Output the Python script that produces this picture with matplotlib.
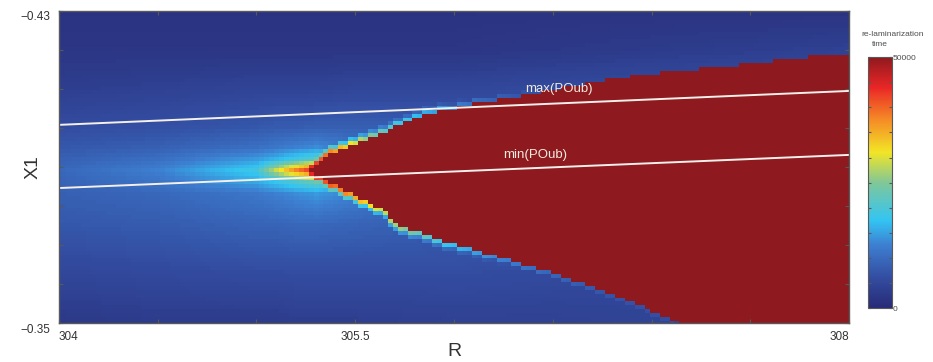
import numpy as np
import matplotlib.pyplot as plt
from matplotlib.colors import LinearSegmentedColormap
import matplotlib.transforms as mtransforms

plt.rcParams['font.family'] = ['Liberation Sans', 'DejaVu Sans']

# grid of the simulation (cell centres)
R_cells = np.arange(161) * 0.025 + 304.0
X1_cells = np.arange(81) * 0.001 - 0.43

# edges of the red (not re-laminarised) region
up_R = [305.27, 305.32, 305.47, 305.64, 305.81, 305.98, 306.12, 306.32, 306.79, 307.09, 307.43, 307.64, 307.84, 308.1]
up_X1 = [-0.3892, -0.3918, -0.3951, -0.3987, -0.4028, -0.4046, -0.4064, -0.4079, -0.4123, -0.4144, -0.4159, -0.4172, -0.4182, -0.4182]
low_R = [305.27, 305.32, 305.47, 305.61, 305.73, 305.98, 306.23, 306.49, 306.79, 306.96, 307.16, 308.1]
low_X1 = [-0.3887, -0.3874, -0.3833, -0.3797, -0.3746, -0.3705, -0.3667, -0.3628, -0.3577, -0.3538, -0.3495, -0.3400]

# coloured cells bordering the red region (fraction of 50000)
fr_up_R = [305.27, 305.4, 305.55, 305.7, 305.9, 306.1, 306.3, 306.6]
fr_up_val = [0.88, 0.72, 0.52, 0.38, 0.30, 0.20, 0.15, 0.10]
fr_low_R = [305.27, 305.45, 305.6, 305.75, 305.95, 306.2, 306.5, 306.8, 307.1]
fr_low_val = [0.88, 0.75, 0.60, 0.50, 0.36, 0.26, 0.18, 0.14, 0.12]
fr_decay = [1.0, 0.55, 0.3]

# background level (fraction of 50000) on a coarse grid
bg_R = [304, 304.5, 305, 305.1, 305.2, 305.3, 305.5, 306, 306.5, 307, 307.5, 308]
bg_X1 = [-0.43, -0.42, -0.41, -0.40, -0.395, -0.392, -0.389, -0.386, -0.383, -0.375, -0.365, -0.35]
bg_levels = [
    [.03, .03, .03, .03, .03, .03, .03, .03, .03, .03, .03, .03],
    [.04, .04, .04, .04, .04, .04, .04, .04, .05, .06, .07, .08],
    [.07, .08, .09, .09, .09, .09, .10, .10, .11, .12, .12, .12],
    [.12, .13, .15, .16, .16, .17, .17, .16, .15, .15, .15, .15],
    [.15, .17, .21, .23, .25, .27, .22, .17, .15, .15, .15, .15],
    [.17, .21, .29, .33, .38, .43, .30, .20, .15, .15, .15, .15],
    [.19, .25, .38, .58, .76, .90, .90, .90, .90, .90, .90, .90],
    [.18, .22, .31, .36, .41, .46, .30, .20, .15, .15, .15, .15],
    [.17, .19, .23, .25, .27, .29, .25, .18, .15, .15, .15, .15],
    [.15, .16, .18, .18, .19, .19, .18, .16, .14, .13, .13, .13],
    [.11, .12, .13, .13, .13, .13, .13, .13, .12, .11, .11, .11],
    [.05, .06, .06, .06, .07, .07, .07, .08, .08, .09, .09, .09],
]

# periodic orbit bounds
line_R = [304.0, 308.0]
max_POub = [-0.4008, -0.4095]
min_POub = [-0.3846, -0.3931]

# build the field
bg = np.array(bg_levels)
cols = np.array([np.interp(X1_cells, bg_X1, bg[:, k]) for k in range(len(bg_R))]).T
field = np.array([np.interp(R_cells, bg_R, row) for row in cols])

RR, XX = np.meshgrid(R_cells, X1_cells)
dx = 0.001
up = np.interp(RR, up_R, up_X1, left=np.nan)
low = np.interp(RR, low_R, low_X1, left=np.nan)
red = (XX >= up) & (XX <= low)
d_up = np.ceil((up - XX) / dx)
d_low = np.ceil((XX - low) / dx)
s_up = np.interp(RR, fr_up_R, fr_up_val, left=0, right=0)
s_low = np.interp(RR, fr_low_R, fr_low_val, left=0, right=0)
for i, dec in enumerate(fr_decay):
    field = np.where(d_up == i + 1, np.maximum(field, s_up * dec), field)
    field = np.where(d_low == i + 1, np.maximum(field, s_low * dec), field)
field[red] = 1.0
field = field * 50000

cmap = LinearSegmentedColormap.from_list('washed_jet', [
    (0.00, (0.16, 0.17, 0.47)),
    (0.12, (0.20, 0.30, 0.63)),
    (0.25, (0.24, 0.50, 0.82)),
    (0.35, (0.20, 0.77, 0.95)),
    (0.50, (0.50, 0.78, 0.60)),
    (0.62, (0.95, 0.90, 0.15)),
    (0.75, (0.96, 0.55, 0.15)),
    (0.88, (0.92, 0.15, 0.15)),
    (1.00, (0.56, 0.10, 0.12)),
])

fig = plt.figure(figsize=(9.33, 3.62), dpi=100)
ax = fig.add_axes([0.0632, 0.1077, 0.8468, 0.862])
im = ax.imshow(field, cmap=cmap, vmin=0, vmax=50000, aspect='auto', interpolation='nearest',
               origin='upper',
               extent=[304 - 0.0125, 308 + 0.0125, -0.35 + dx / 2, -0.43 - dx / 2])
ax.plot(line_R, max_POub, color=(0.96, 0.94, 0.92), lw=1.4)
ax.plot(line_R, min_POub, color=(0.96, 0.94, 0.92), lw=1.4)
ax.text(306.53, -0.4100, 'max(POub)', color=(0.95, 0.92, 0.88), fontsize=9.5, ha='center', va='center')
ax.text(306.41, -0.3931, 'min(POub)', color=(0.95, 0.92, 0.88), fontsize=9.5, ha='center', va='center')
ax.set_xlim(304, 308)
ax.set_ylim(-0.35, -0.43)

grey = (0.35, 0.35, 0.35)
for sp in ax.spines.values():
    sp.set_color(grey)
    sp.set_linewidth(1.0)
ax.set_xticks(np.arange(304, 308.01, 0.5))
ax.set_xticklabels(['304', '', '', '305.5', '', '', '', '', '308'])
ax.set_yticks(np.arange(-0.43, -0.3499, 0.01))
ax.set_yticklabels(['\u22120.43'] + [''] * 7 + ['\u22120.35'])
ax.tick_params(direction='in', length=3, color=grey, labelcolor=(0.2, 0.2, 0.2), labelsize=8.5,
               top=True, right=True, pad=6)
xl = ax.get_xticklabels()
xl[0].set_ha('left')
xl[-1].set_ha('right')
shift = mtransforms.ScaledTranslation(0, -5 / 100, fig.dpi_scale_trans)
for lab in ax.get_yticklabels():
    lab.set_transform(lab.get_transform() + shift)
ax.set_xlabel('R', fontsize=14, color=(0.2, 0.2, 0.2), labelpad=0)
ax.set_ylabel('X1', fontsize=14, color=(0.2, 0.2, 0.2))
ax.yaxis.set_label_coords(-0.0215, 0.5)

cax = fig.add_axes([0.930, 0.149, 0.0257, 0.693])
cb = fig.colorbar(im, cax=cax)
cb.outline.set_edgecolor(grey)
cb.set_ticks(np.arange(0, 50001, 5000))
cb.set_ticklabels(['0'] + [''] * 9 + ['50000'])
cax.tick_params(direction='in', length=2, color=grey, labelsize=6, labelcolor=(0.3, 0.3, 0.3),
                left=True, right=True, pad=1)
fig.text(0.957, 0.905, 're-laminarization', fontsize=6, color=(0.3, 0.3, 0.3), ha='center', va='center')
fig.text(0.943, 0.878, 'time', fontsize=6, color=(0.3, 0.3, 0.3), ha='center', va='center')

fig.savefig('out.png', dpi=100)
